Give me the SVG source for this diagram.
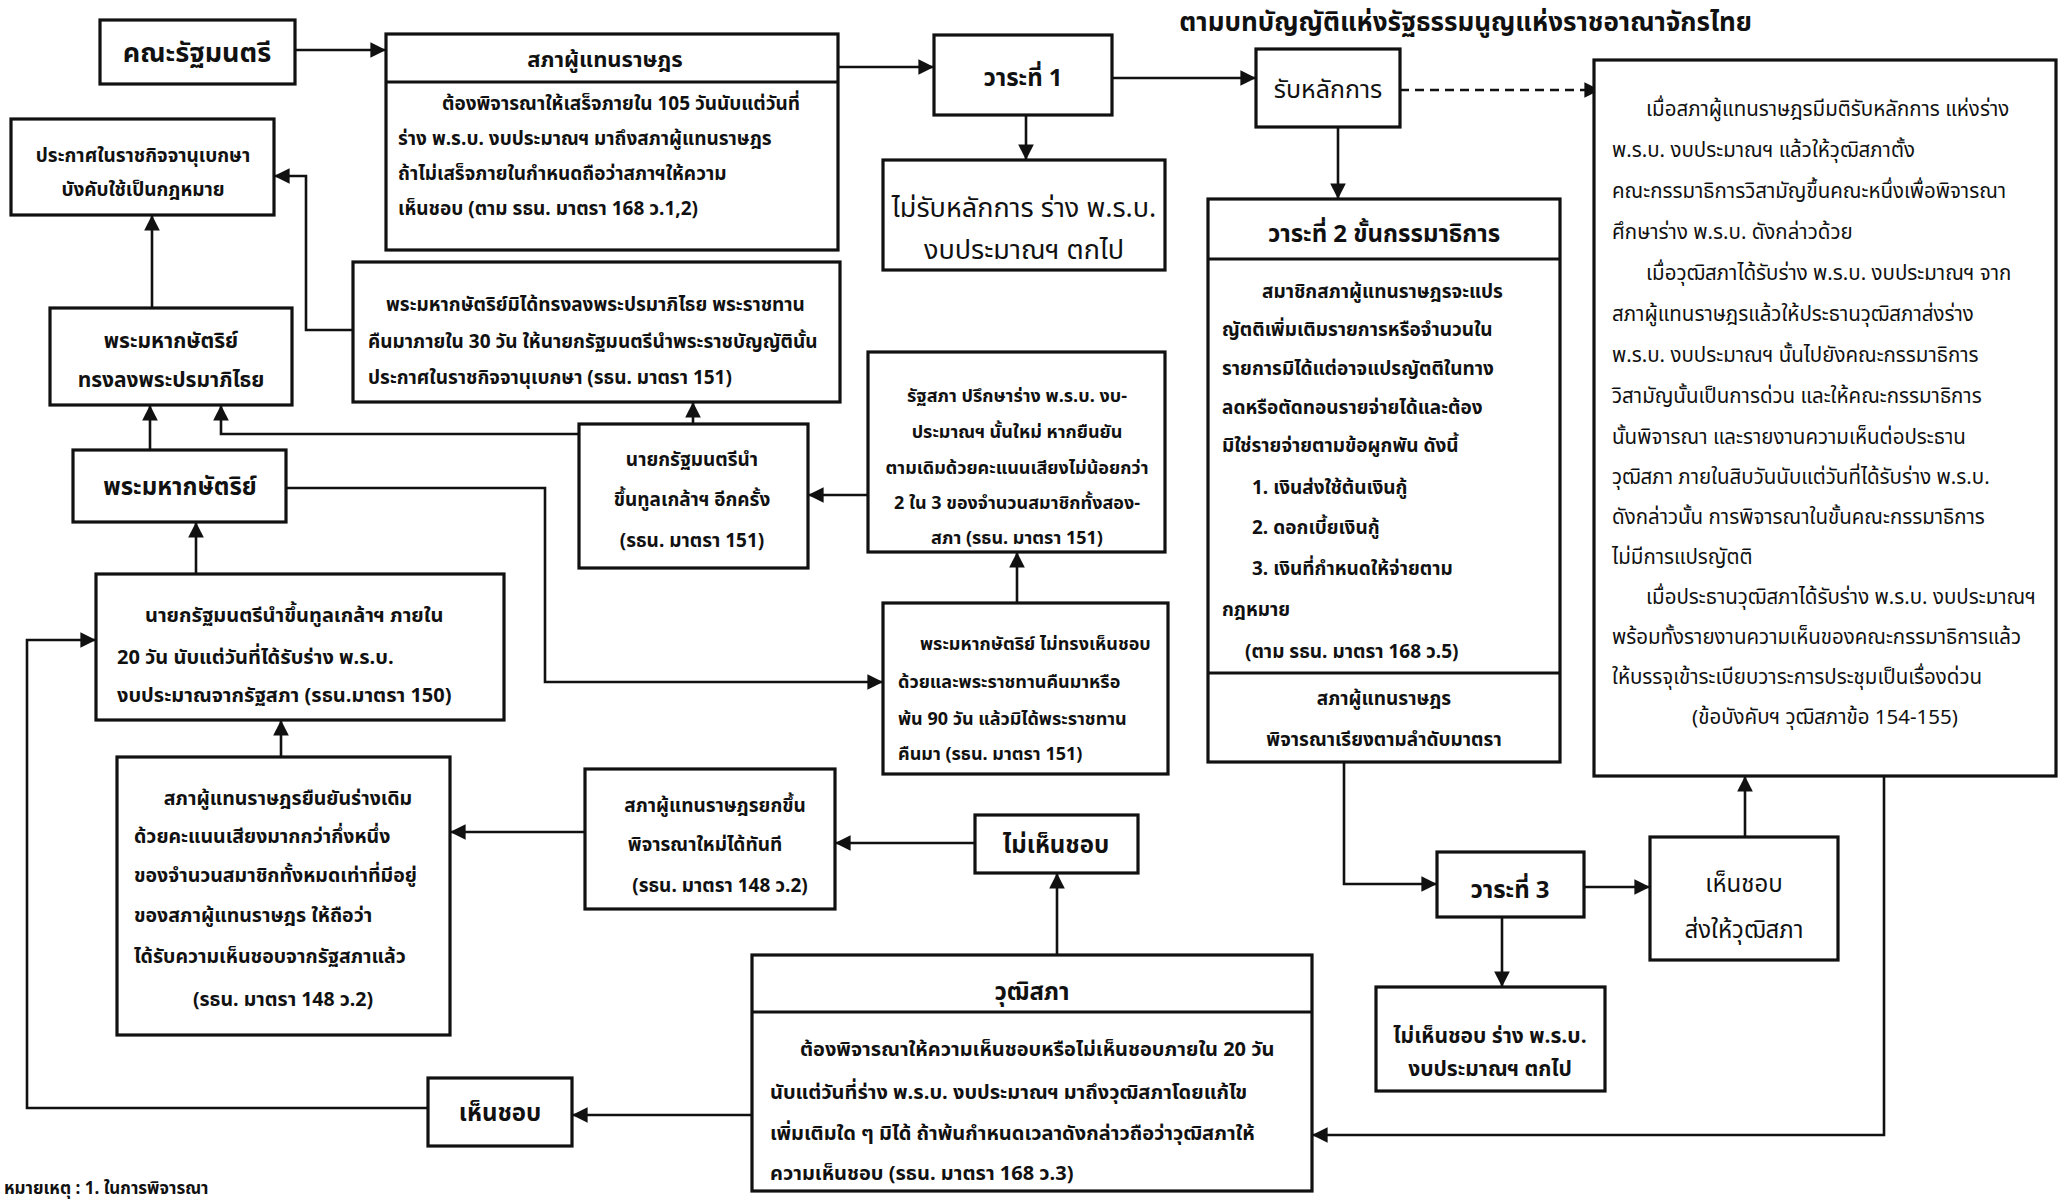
<svg xmlns="http://www.w3.org/2000/svg" width="2061" height="1199" viewBox="0 0 2061 1199">
<defs>
<marker id="ah" viewBox="0 0 10 10" refX="10" refY="5" markerWidth="6" markerHeight="6" orient="auto" markerUnits="strokeWidth"><path d="M0,0 L10,5 L0,10 z" fill="#111"/></marker>
<style>
.box{fill:#fff;stroke:#111;stroke-width:3.2}
.div{stroke:#111;stroke-width:3}
.ln{fill:none;stroke:#111;stroke-width:2.6}
.dash{stroke-dasharray:9 6}
text{font-family:"Noto Sans Thai","Noto Sans Thai UI","Loma","Garuda","Tlwg Typo","Noto Sans","DejaVu Sans",sans-serif;fill:#111;font-weight:bold;font-size:19px}
.n{font-weight:normal}
.c{text-anchor:middle}
.h{font-size:24px}
.big{font-size:27px}
.g{font-size:20.5px;font-weight:normal}
</style>
</defs>
<rect x="0" y="0" width="2061" height="1199" fill="#fff"/>

<text x="1752" y="31" style="font-size:26px;text-anchor:end">ตามบทบัญญัติแห่งรัฐธรรมนูญแห่งราชอาณาจักรไทย</text>

<g id="connectors">
<path class="ln" d="M295,50 H386" marker-end="url(#ah)"/>
<path class="ln" d="M838,67 H934" marker-end="url(#ah)"/>
<path class="ln" d="M1112,78 H1256" marker-end="url(#ah)"/>
<path class="ln" d="M1026,115 V160" marker-end="url(#ah)"/>
<path class="ln dash" d="M1400,90 H1600" marker-end="url(#ah)"/>
<path class="ln" d="M1338,127 V199" marker-end="url(#ah)"/>
<path class="ln" d="M1344,762 V884 H1437" marker-end="url(#ah)"/>
<path class="ln" d="M1584,887 H1650" marker-end="url(#ah)"/>
<path class="ln" d="M1502,917 V987" marker-end="url(#ah)"/>
<path class="ln" d="M1745,837 V776" marker-end="url(#ah)"/>
<path class="ln" d="M1884,776 V1135 H1312" marker-end="url(#ah)"/>
<path class="ln" d="M1057,955 V873" marker-end="url(#ah)"/>
<path class="ln" d="M975,843 H835" marker-end="url(#ah)"/>
<path class="ln" d="M585,832 H450" marker-end="url(#ah)"/>
<path class="ln" d="M281,757 V720" marker-end="url(#ah)"/>
<path class="ln" d="M752,1115 H572" marker-end="url(#ah)"/>
<path class="ln" d="M428,1108 H27 V640 H96" marker-end="url(#ah)"/>
<path class="ln" d="M196,574 V522" marker-end="url(#ah)"/>
<path class="ln" d="M150,450 V405" marker-end="url(#ah)"/>
<path class="ln" d="M152,308 V215" marker-end="url(#ah)"/>
<path class="ln" d="M286,488 H545 V682 H883" marker-end="url(#ah)"/>
<path class="ln" d="M1017,603 V552" marker-end="url(#ah)"/>
<path class="ln" d="M868,495 H808" marker-end="url(#ah)"/>
<path class="ln" d="M693,424 V402" marker-end="url(#ah)"/>
<path class="ln" d="M579,434 H221 V405" marker-end="url(#ah)"/>
<path class="ln" d="M353,330 H306 V176 H274" marker-end="url(#ah)"/>
</g>

<g id="n-cabinet">
<rect class="box" x="100" y="20" width="195" height="64"/>
<text class="c big" x="197" y="62">คณะรัฐมนตรี</text>
</g>

<g id="n-house">
<rect class="box" x="386" y="34" width="452" height="216"/>
<line class="div" x1="386" y1="82" x2="838" y2="82"/>
<text class="c" x="605" y="67" style="font-size:22px">สภาผู้แทนราษฎร</text>
<text x="442" y="110">ต้องพิจารณาให้เสร็จภายใน 105 วันนับแต่วันที่</text>
<text x="398" y="145">ร่าง พ.ร.บ. งบประมาณฯ มาถึงสภาผู้แทนราษฎร</text>
<text x="398" y="180">ถ้าไม่เสร็จภายในกำหนดถือว่าสภาฯให้ความ</text>
<text x="398" y="215">เห็นชอบ (ตาม รธน. มาตรา 168 ว.1,2)</text>
</g>

<g id="n-reading1">
<rect class="box" x="934" y="35" width="178" height="80"/>
<text class="c h" x="1023" y="86">วาระที่ 1</text>
</g>

<g id="n-reject1">
<rect class="box" x="883" y="160" width="282" height="110"/>
<text class="c big n" x="1024" y="217">ไม่รับหลักการ ร่าง พ.ร.บ.</text>
<text class="c big n" x="1024" y="259">งบประมาณฯ  ตกไป</text>
</g>

<g id="n-accept">
<rect class="box" x="1256" y="49" width="144" height="78"/>
<text class="c n" x="1328" y="98" style="font-size:25px">รับหลักการ</text>
</g>

<g id="n-reading2">
<rect class="box" x="1208" y="199" width="352" height="563"/>
<line class="div" x1="1208" y1="259" x2="1560" y2="259"/>
<line class="div" x1="1208" y1="673" x2="1560" y2="673"/>
<text class="c h" x="1384" y="242">วาระที่ 2 ขั้นกรรมาธิการ</text>
<text x="1262" y="298">สมาชิกสภาผู้แทนราษฎรจะแปร</text>
<text x="1222" y="336">ญัตติเพิ่มเติมรายการหรือจำนวนใน</text>
<text x="1222" y="375">รายการมิได้แต่อาจแปรญัตติในทาง</text>
<text x="1222" y="414">ลดหรือตัดทอนรายจ่ายได้และต้อง</text>
<text x="1222" y="452">มิใช่รายจ่ายตามข้อผูกพัน ดังนี้</text>
<text x="1252" y="494">1. เงินส่งใช้ต้นเงินกู้</text>
<text x="1252" y="534">2. ดอกเบี้ยเงินกู้</text>
<text x="1252" y="575">3. เงินที่กำหนดให้จ่ายตาม</text>
<text x="1222" y="616">กฎหมาย</text>
<text x="1245" y="658">(ตาม รธน. มาตรา 168 ว.5)</text>
<text class="c" x="1384" y="705">สภาผู้แทนราษฎร</text>
<text class="c" x="1384" y="746">พิจารณาเรียงตามลำดับมาตรา</text>
</g>

<g id="n-senate-committee">
<rect class="box" x="1594" y="60" width="462" height="716"/>
<text class="g" x="1646" y="116">เมื่อสภาผู้แทนราษฎรมีมติรับหลักการ แห่งร่าง</text>
<text class="g" x="1612" y="157">พ.ร.บ. งบประมาณฯ แล้วให้วุฒิสภาตั้ง</text>
<text class="g" x="1612" y="198">คณะกรรมาธิการวิสามัญขึ้นคณะหนึ่งเพื่อพิจารณา</text>
<text class="g" x="1612" y="239">ศึกษาร่าง พ.ร.บ. ดังกล่าวด้วย</text>
<text class="g" x="1646" y="280">เมื่อวุฒิสภาได้รับร่าง พ.ร.บ. งบประมาณฯ จาก</text>
<text class="g" x="1612" y="321">สภาผู้แทนราษฎรแล้วให้ประธานวุฒิสภาส่งร่าง</text>
<text class="g" x="1612" y="362">พ.ร.บ. งบประมาณฯ นั้นไปยังคณะกรรมาธิการ</text>
<text class="g" x="1612" y="403">วิสามัญนั้นเป็นการด่วน และให้คณะกรรมาธิการ</text>
<text class="g" x="1612" y="444">นั้นพิจารณา และรายงานความเห็นต่อประธาน</text>
<text class="g" x="1612" y="484">วุฒิสภา ภายในสิบวันนับแต่วันที่ได้รับร่าง พ.ร.บ.</text>
<text class="g" x="1612" y="524">ดังกล่าวนั้น การพิจารณาในขั้นคณะกรรมาธิการ</text>
<text class="g" x="1612" y="564">ไม่มีการแปรญัตติ</text>
<text class="g" x="1646" y="604">เมื่อประธานวุฒิสภาได้รับร่าง พ.ร.บ. งบประมาณฯ</text>
<text class="g" x="1612" y="644">พร้อมทั้งรายงานความเห็นของคณะกรรมาธิการแล้ว</text>
<text class="g" x="1612" y="684">ให้บรรจุเข้าระเบียบวาระการประชุมเป็นเรื่องด่วน</text>
<text class="g c" x="1825" y="724">(ข้อบังคับฯ วุฒิสภาข้อ 154-155)</text>
</g>

<g id="n-gazette">
<rect class="box" x="11" y="119" width="263" height="96"/>
<text class="c" x="143" y="162">ประกาศในราชกิจจานุเบกษา</text>
<text class="c" x="143" y="196">บังคับใช้เป็นกฎหมาย</text>
</g>

<g id="n-king-sign">
<rect class="box" x="50" y="308" width="242" height="97"/>
<text class="c" x="171" y="348" style="font-size:21px">พระมหากษัตริย์</text>
<text class="c" x="171" y="387" style="font-size:21px">ทรงลงพระปรมาภิไธย</text>
</g>

<g id="n-king">
<rect class="box" x="73" y="450" width="213" height="72"/>
<text class="c h" x="180" y="495">พระมหากษัตริย์</text>
</g>

<g id="n-no-sign">
<rect class="box" x="353" y="262" width="487" height="140"/>
<text x="386" y="311">พระมหากษัตริย์มิได้ทรงลงพระปรมาภิไธย พระราชทาน</text>
<text x="368" y="348">คืนมาภายใน 30 วัน ให้นายกรัฐมนตรีนำพระราชบัญญัตินั้น</text>
<text x="368" y="384">ประกาศในราชกิจจานุเบกษา (รธน. มาตรา 151)</text>
</g>

<g id="n-pm-again">
<rect class="box" x="579" y="424" width="229" height="144"/>
<text class="c" x="692" y="466">นายกรัฐมนตรีนำ</text>
<text class="c" x="692" y="506">ขึ้นทูลเกล้าฯ อีกครั้ง</text>
<text class="c" x="692" y="547">(รธน. มาตรา 151)</text>
</g>

<g id="n-parliament">
<rect class="box" x="868" y="352" width="297" height="200"/>
<text class="c" x="1017" y="402" style="font-size:18px">รัฐสภา ปรึกษาร่าง พ.ร.บ. งบ-</text>
<text class="c" x="1017" y="438" style="font-size:18px">ประมาณฯ นั้นใหม่ หากยืนยัน</text>
<text class="c" x="1017" y="474" style="font-size:18px">ตามเดิมด้วยคะแนนเสียงไม่น้อยกว่า</text>
<text class="c" x="1017" y="509" style="font-size:18px">2 ใน 3 ของจำนวนสมาชิกทั้งสอง-</text>
<text class="c" x="1017" y="544" style="font-size:18px">สภา (รธน. มาตรา 151)</text>
</g>

<g id="n-king-veto">
<rect class="box" x="883" y="603" width="285" height="171"/>
<text x="920" y="650" style="font-size:18px">พระมหากษัตริย์ ไม่ทรงเห็นชอบ</text>
<text x="898" y="688" style="font-size:18px">ด้วยและพระราชทานคืนมาหรือ</text>
<text x="898" y="725" style="font-size:18px">พ้น 90 วัน แล้วมิได้พระราชทาน</text>
<text x="898" y="760" style="font-size:18px">คืนมา (รธน. มาตรา 151)</text>
</g>

<g id="n-pm">
<rect class="box" x="96" y="574" width="408" height="146"/>
<text x="145" y="622" style="font-size:20px">นายกรัฐมนตรีนำขึ้นทูลเกล้าฯ  ภายใน</text>
<text x="117" y="664" style="font-size:20px">20 วัน นับแต่วันที่ได้รับร่าง พ.ร.บ.</text>
<text x="117" y="702" style="font-size:20px">งบประมาณจากรัฐสภา  (รธน.มาตรา 150)</text>
</g>

<g id="n-house-confirm">
<rect class="box" x="117" y="757" width="333" height="278"/>
<text class="c" x="288" y="805" style="font-size:19.5px">สภาผู้แทนราษฎรยืนยันร่างเดิม</text>
<text x="134" y="843" style="font-size:19.5px">ด้วยคะแนนเสียงมากกว่ากึ่งหนึ่ง</text>
<text x="134" y="882" style="font-size:19.5px">ของจำนวนสมาชิกทั้งหมดเท่าที่มีอยู่</text>
<text x="134" y="922" style="font-size:19.5px">ของสภาผู้แทนราษฎร ให้ถือว่า</text>
<text x="134" y="963" style="font-size:19.5px">ได้รับความเห็นชอบจากรัฐสภาแล้ว</text>
<text class="c" x="283" y="1006" style="font-size:19.5px">(รธน. มาตรา 148 ว.2)</text>
</g>

<g id="n-house-reconsider">
<rect class="box" x="585" y="769" width="250" height="140"/>
<text class="c" x="715" y="812">สภาผู้แทนราษฎรยกขึ้น</text>
<text class="c" x="705" y="851">พิจารณาใหม่ได้ทันที</text>
<text class="c" x="720" y="892">(รธน. มาตรา 148 ว.2)</text>
</g>

<g id="n-disapprove">
<rect class="box" x="975" y="815" width="163" height="58"/>
<text class="c h" x="1056" y="853">ไม่เห็นชอบ</text>
</g>

<g id="n-senate">
<rect class="box" x="752" y="955" width="560" height="236"/>
<line class="div" x1="752" y1="1012" x2="1312" y2="1012"/>
<text class="c h" x="1032" y="1000">วุฒิสภา</text>
<text x="800" y="1056" style="font-size:20px">ต้องพิจารณาให้ความเห็นชอบหรือไม่เห็นชอบภายใน 20 วัน</text>
<text x="770" y="1099" style="font-size:20px">นับแต่วันที่ร่าง พ.ร.บ. งบประมาณฯ มาถึงวุฒิสภาโดยแก้ไข</text>
<text x="770" y="1140" style="font-size:20px">เพิ่มเติมใด ๆ มิได้ ถ้าพ้นกำหนดเวลาดังกล่าวถือว่าวุฒิสภาให้</text>
<text x="770" y="1180" style="font-size:20px">ความเห็นชอบ (รธน. มาตรา 168 ว.3)</text>
</g>

<g id="n-approve">
<rect class="box" x="428" y="1078" width="144" height="68"/>
<text class="c h" x="500" y="1121">เห็นชอบ</text>
</g>

<g id="n-reading3">
<rect class="box" x="1437" y="852" width="147" height="65"/>
<text class="c h" x="1510" y="898">วาระที่ 3</text>
</g>

<g id="n-to-senate">
<rect class="box" x="1650" y="837" width="188" height="123"/>
<text class="c h n" x="1744" y="892">เห็นชอบ</text>
<text class="c h n" x="1744" y="938">ส่งให้วุฒิสภา</text>
</g>

<g id="n-reject3">
<rect class="box" x="1376" y="987" width="229" height="104"/>
<text class="c" x="1490" y="1043" style="font-size:21px">ไม่เห็นชอบ ร่าง พ.ร.บ.</text>
<text class="c" x="1490" y="1076" style="font-size:21px">งบประมาณฯ ตกไป</text>
</g>

<text x="4" y="1194" style="font-size:17px">หมายเหตุ :  1. ในการพิจารณา</text>
</svg>
